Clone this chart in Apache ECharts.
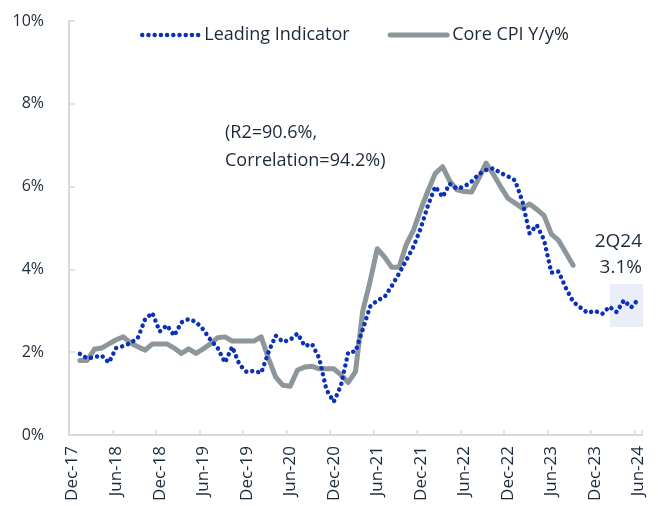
<!DOCTYPE html>
<html>
<head>
<meta charset="utf-8">
<script src="https://cdn.jsdelivr.net/npm/echarts@6/dist/echarts.min.js"></script>
<style>
html, body { margin: 0; padding: 0; background: #fff; }
#chart { width: 658px; height: 506px; }
</style>
</head>
<body>
<div id="chart"></div>
<script>
// months, Dec-17 .. Jun-24
var months = [
    'Dec-17',
    'Jan-18','Feb-18','Mar-18','Apr-18','May-18','Jun-18','Jul-18','Aug-18','Sep-18','Oct-18','Nov-18','Dec-18',
    'Jan-19','Feb-19','Mar-19','Apr-19','May-19','Jun-19','Jul-19','Aug-19','Sep-19','Oct-19','Nov-19','Dec-19',
    'Jan-20','Feb-20','Mar-20','Apr-20','May-20','Jun-20','Jul-20','Aug-20','Sep-20','Oct-20','Nov-20','Dec-20',
    'Jan-21','Feb-21','Mar-21','Apr-21','May-21','Jun-21','Jul-21','Aug-21','Sep-21','Oct-21','Nov-21','Dec-21',
    'Jan-22','Feb-22','Mar-22','Apr-22','May-22','Jun-22','Jul-22','Aug-22','Sep-22','Oct-22','Nov-22','Dec-22',
    'Jan-23','Feb-23','Mar-23','Apr-23','May-23','Jun-23','Jul-23','Aug-23','Sep-23','Oct-23','Nov-23','Dec-23',
    'Jan-24','Feb-24','Mar-24','Apr-24','May-24','Jun-24'
];

// leading indicator, Jan-18 .. Jun-24 (%)
var leading = [
    1.96, 1.85, 1.88, 1.92, 1.75, 2.10, 2.15, 2.22, 2.35, 2.80, 2.95, 2.50,
    2.65, 2.40, 2.72, 2.80, 2.73, 2.55, 2.30, 2.10, 1.75, 2.13, 1.70, 1.52,
    1.55, 1.50, 2.00, 2.40, 2.25, 2.30, 2.45, 2.15, 2.20, 1.85, 1.09, 0.80,
    1.20, 2.00, 2.02, 2.55, 3.10, 3.25, 3.33, 3.60, 3.90, 4.22, 4.55, 5.00,
    5.55, 6.00, 5.75, 6.07, 5.95, 6.00, 6.12, 6.30, 6.40, 6.44, 6.33, 6.25,
    6.15, 5.65, 4.87, 5.07, 4.71, 3.92, 3.95, 3.55, 3.22, 3.08, 2.95, 3.00,
    2.92, 3.10, 2.97, 3.25, 3.08, 3.28
];

// core CPI y/y, Jan-18 .. Sep-23 (%)
var coreCpi = [
    1.80, 1.80, 2.07, 2.10, 2.20, 2.30, 2.37, 2.22, 2.13, 2.05, 2.20, 2.20,
    2.20, 2.10, 1.97, 2.08, 1.97, 2.08, 2.20, 2.35, 2.37, 2.27, 2.27, 2.27,
    2.27, 2.37, 1.85, 1.40, 1.20, 1.18, 1.57, 1.64, 1.66, 1.60, 1.60, 1.60,
    1.45, 1.27, 1.53, 3.00, 3.70, 4.50, 4.30, 4.05, 4.05, 4.60, 4.95, 5.45,
    5.90, 6.32, 6.48, 6.13, 5.92, 5.88, 5.87, 6.20, 6.57, 6.30, 6.00, 5.72,
    5.60, 5.48, 5.58, 5.45, 5.30, 4.85, 4.70, 4.40, 4.10
];

var yTicks = [0, 2, 4, 6, 8, 10];

var textColor = '#1c2a39';
var fontName = 'Open Sans';
var blue = '#0b31b8';
var grey = '#8c969b';

// pad the series so they line up with the month list (no value for Dec-17)
function padSeries(values) {
    var out = [null];
    for (var i = 0; i < values.length; ++ i) {
        out.push(values[i]);
    }
    while (out.length < months.length) out.push(null);
    return out;
}

var dotLine = { color: blue, width: 4.5, type: [0.01, 6.2], cap: 'round' };
var solidLine = { color: grey, width: 5, cap: 'round', join: 'round' };

var chart = echarts.init(document.getElementById('chart'), null, { renderer: 'canvas' });

var option = {
    backgroundColor: '#fff',
    animation: false,
    textStyle: { fontFamily: fontName, color: textColor },
    grid: {
        left: 69, right: 16, top: 21, bottom: 71,
        outerBoundsMode: 'none'
    },
    legend: {
        left: 140, top: 26, padding: 0,
        itemWidth: 57, itemHeight: 14, itemGap: 38,
        itemStyle: { opacity: 0 },
        data: [
            { name: 'Leading Indicator', lineStyle: dotLine },
            { name: 'Core CPI Y/y%', lineStyle: solidLine }
        ],
        textStyle: { fontSize: 18, color: textColor, fontFamily: fontName }
    },
    xAxis: {
        type: 'category',
        data: months,
        boundaryGap: true,
        axisLine: { lineStyle: { color: '#d9d9d9', width: 2 } },
        axisTick: { show: true, inside: true, length: 5, interval: 5, lineStyle: { color: '#d9d9d9', width: 1.5 } },
        axisLabel: { interval: 5, rotate: 90, margin: 11, fontSize: 17, color: textColor, fontFamily: fontName },
        splitLine: { show: false }
    },
    yAxis: {
        type: 'value',
        min: yTicks[0], max: yTicks[yTicks.length - 1], interval: 2,
        axisLine: { show: true, lineStyle: { color: '#d9d9d9', width: 2 } },
        axisTick: { show: true, inside: true, length: 6, lineStyle: { color: '#d9d9d9', width: 1.5 } },
        axisLabel: { formatter: '{value}%', margin: 25, fontSize: 16, color: textColor, fontFamily: fontName },
        splitLine: { show: false }
    },
    graphic: [
        {
            type: 'rect', z: 0,
            shape: { x: 610, y: 284, width: 33, height: 43 },
            style: { fill: '#e9eef8' }
        },
        {
            type: 'text', x: 225, y: 119, z: 10,
            style: {
                text: '(R2=90.6%,\nCorrelation=94.2%)',
                font: '18px "Open Sans"', fill: textColor,
                lineHeight: 28, verticalAlign: 'top'
            }
        },
        {
            type: 'text', x: 642, y: 228, z: 10,
            style: {
                text: '2Q24\n3.1%',
                font: '19px "Open Sans"', fill: textColor,
                align: 'right', lineHeight: 26.5, verticalAlign: 'top'
            }
        }
    ],
    series: [
        {
            name: 'Leading Indicator',
            type: 'line',
            data: padSeries(leading),
            symbol: 'none',
            z: 4,
            lineStyle: dotLine,
            itemStyle: { color: blue }
        },
        {
            name: 'Core CPI Y/y%',
            type: 'line',
            data: padSeries(coreCpi),
            symbol: 'none',
            z: 3,
            lineStyle: solidLine,
            itemStyle: { color: grey }
        }
    ]
};

chart.setOption(option);
</script>
</body>
</html>
